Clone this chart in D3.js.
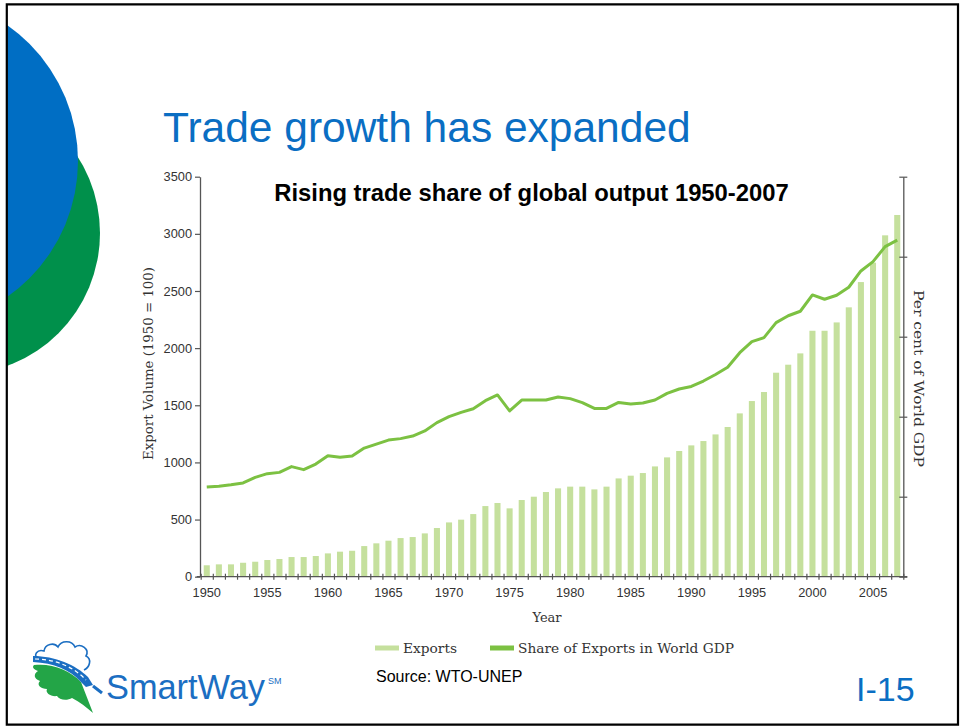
<!DOCTYPE html>
<html>
<head>
<meta charset="utf-8">
<script src="https://cdn.jsdelivr.net/npm/d3@7"></script>
<style>
  body { margin: 0; background: #fff; }
  svg { display: block; }
</style>
</head>
<body>
<svg id="slide" width="960" height="726"></svg>
<script>
// ---- data ----
const years = d3.range(1950, 2008);

// Export volume index (1950 = 100)
const exportVolume = [
  100, 108, 108, 122, 131, 146, 155, 172, 172, 181,
  204, 219, 227, 268, 292, 315, 338, 347, 379, 426,
  475, 499, 548, 618, 645, 598, 671, 700, 741, 773,
  788, 788, 764, 788, 860, 884, 907, 965, 1044, 1100,
  1149, 1187, 1245, 1310, 1429, 1537, 1616, 1785, 1855, 1954,
  2152, 2152, 2225, 2357, 2578, 2748, 2987, 3165
];

// Share of exports in world GDP (per cent)
const gdpShare = [
  5.61, 5.66, 5.75, 5.86, 6.21, 6.44, 6.52, 6.88, 6.69, 7.04,
  7.56, 7.46, 7.54, 8.04, 8.29, 8.54, 8.63, 8.79, 9.11, 9.63,
  10.00, 10.27, 10.50, 11.00, 11.36, 10.36, 11.04, 11.04, 11.04, 11.23,
  11.13, 10.88, 10.52, 10.52, 10.89, 10.79, 10.86, 11.04, 11.46, 11.73,
  11.89, 12.23, 12.64, 13.09, 14.00, 14.69, 14.94, 15.88, 16.31, 16.59,
  17.61, 17.34, 17.59, 18.09, 19.11, 19.69, 20.63, 21.04
];

const leftTicks = [0, 500, 1000, 1500, 2000, 2500, 3000, 3500];
const rightTicks = [0, 5, 10, 15, 20, 25];
const yearLabels = [1950, 1955, 1960, 1965, 1970, 1975, 1980, 1985, 1990, 1995, 2000, 2005];
const legendLabels = ["Exports", "Share of Exports in World GDP"];

// ---- styling ----
const BAR = "#c5e09d";
const LINE = "#7cc142";
const AXIS = "#555";
const SERIF = "'DejaVu Serif', serif";
const SANS = "'Liberation Sans', Arial, sans-serif";

const svg = d3.select("#slide");

// ---- slide decoration ----
const deco = svg.append("g");
deco.append("clipPath").attr("id", "inside")
  .append("rect").attr("x", 7).attr("y", 5).attr("width", 950).attr("height", 719);
const circles = deco.append("g").attr("clip-path", "url(#inside)");
circles.append("circle").attr("cx", -41.6).attr("cy", 233).attr("r", 141.6).attr("fill", "#00904b");
circles.append("circle").attr("cx", -87.8).attr("cy", 161).attr("r", 165.8).attr("fill", "#006ec4");

svg.append("text")
  .attr("x", 163).attr("y", 142)
  .attr("font-family", SANS).attr("font-size", 42.5)
  .attr("fill", "#0a6ec3")
  .text("Trade growth has expanded");

// ---- chart ----
const plot = { left: 200.7, right: 903.3, top: 176.7, bottom: 576.7 };

const x = d3.scaleBand()
  .domain(years)
  .range([plot.left, plot.right])
  .paddingInner(0.5)
  .paddingOuter(0.25);

// continuous year scale for the band-boundary tick marks
const xEdge = d3.scaleLinear()
  .domain([1949.5, 2007.5])
  .range([plot.left, plot.right]);

const y = d3.scaleLinear().domain([0, 3500]).range([plot.bottom, plot.top]);
const yR = d3.scaleLinear().domain([0, 25]).range([plot.bottom, plot.top]);

const chart = svg.append("g");

// bars
chart.append("g").selectAll("rect")
  .data(years)
  .join("rect")
  .attr("x", d => x(d))
  .attr("width", x.bandwidth())
  .attr("y", (d, i) => y(exportVolume[i]))
  .attr("height", (d, i) => y(0) - y(exportVolume[i]))
  .attr("fill", BAR);

// share line
const line = d3.line()
  .x(d => x(d.year) + x.bandwidth() / 2)
  .y(d => yR(d.share));

chart.append("path")
  .datum(years.map((yr, i) => ({ year: yr, share: gdpShare[i] })))
  .attr("d", line)
  .attr("fill", "none")
  .attr("stroke", LINE)
  .attr("stroke-width", 3)
  .attr("stroke-linejoin", "round");

function styleAxis(g) {
  g.selectAll(".domain").attr("stroke", AXIS).attr("stroke-width", 1.3);
  g.selectAll(".tick line").attr("stroke", AXIS).attr("stroke-width", 1.2);
  g.selectAll(".tick text")
    .attr("font-family", SANS).attr("font-size", 12.8).attr("fill", "#333");
}

// left axis
chart.append("g")
  .attr("transform", `translate(${plot.left - 0.7},0)`)
  .call(d3.axisLeft(y).tickValues(leftTicks).tickSize(5).tickPadding(3)
    .tickSizeOuter(0).tickFormat(d3.format("d")))
  .call(styleAxis);

// right axis (unlabelled ticks, crossing the line)
const rAxis = chart.append("g")
  .attr("transform", `translate(${plot.right},0)`)
  .call(d3.axisRight(yR).tickValues(rightTicks).tickSize(4).tickSizeOuter(0).tickFormat(""))
  .call(styleAxis);
rAxis.selectAll(".tick line").attr("x1", -4);

// bottom axis: boundary ticks
const bAxis = chart.append("g")
  .attr("transform", `translate(0,${plot.bottom})`)
  .call(d3.axisBottom(xEdge).tickValues(d3.range(1949.5, 2008, 1)).tickSize(3).tickFormat("").tickSizeOuter(0))
  .call(styleAxis);
bAxis.selectAll(".tick line").attr("y1", -3);
bAxis.select(".domain").attr("d", `M${plot.left - 4},0H${plot.right + 4}`);

// bottom axis: year labels at band centres
chart.append("g")
  .attr("transform", `translate(0,${plot.bottom})`)
  .call(d3.axisBottom(x).tickValues(yearLabels).tickSize(0).tickPadding(11))
  .call(g => g.select(".domain").remove())
  .call(styleAxis);

// axis titles
svg.append("text")
  .attr("transform", "translate(153,363.5) rotate(-90)")
  .attr("text-anchor", "middle")
  .attr("font-family", SERIF).attr("font-size", 13).attr("fill", "#333")
  .attr("textLength", 193).attr("lengthAdjust", "spacingAndGlyphs")
  .text("Export Volume (1950 = 100)");

svg.append("text")
  .attr("transform", "translate(914,378.5) rotate(90)")
  .attr("text-anchor", "middle")
  .attr("font-family", SERIF).attr("font-size", 13.5).attr("fill", "#333")
  .attr("textLength", 177).attr("lengthAdjust", "spacingAndGlyphs")
  .text("Per cent of World GDP");

svg.append("text")
  .attr("x", 547).attr("y", 622)
  .attr("text-anchor", "middle")
  .attr("font-family", SERIF).attr("font-size", 13).attr("fill", "#333")
  .text("Year");

svg.append("text")
  .attr("x", 531.5).attr("y", 201)
  .attr("text-anchor", "middle")
  .attr("font-family", SANS).attr("font-size", 23.8).attr("font-weight", "bold")
  .attr("fill", "#000")
  .text("Rising trade share of global output 1950-2007");

// legend
const legendX = [375, 490];
const legendLen = [54, 216];
const legendColors = [BAR, LINE];
const legend = svg.append("g").selectAll("g")
  .data(legendLabels)
  .join("g")
  .attr("transform", (d, i) => `translate(${legendX[i]},648)`);
legend.append("rect")
  .attr("x", 0).attr("y", -2.5).attr("width", 24).attr("height", 5)
  .attr("fill", (d, i) => legendColors[i]);
legend.append("text")
  .attr("x", 28).attr("y", 4.5)
  .attr("font-family", SERIF).attr("font-size", 13).attr("fill", "#333")
  .attr("textLength", (d, i) => legendLen[i]).attr("lengthAdjust", "spacingAndGlyphs")
  .text(d => d);

// source note
svg.append("text")
  .attr("x", 376).attr("y", 682)
  .attr("font-family", SANS).attr("font-size", 16).attr("fill", "#000")
  .text("Source: WTO-UNEP");

// slide number
svg.append("text")
  .attr("x", 856).attr("y", 701)
  .attr("font-family", "'Liberation Sans Narrow', 'Liberation Sans', sans-serif")
  .attr("font-size", 34).attr("fill", "#0a6ec3")
  .text("I-15");

// ---- SmartWay logo ----
const logo = svg.append("g");
logo.append("path")
  .attr("d", "M34,665 C52,663 70,670 81,682 L93,713 C86,707 80,702 72,698 C67,701 59,700 57,696 C51,697 45,693 47,689 C41,689 36,685 40,681 C34,679 33,674 38,671 C33,669 32,667 34,665 Z")
  .attr("fill", "#23a547");
logo.append("path")
  .attr("d", "M38,659 C33,655 37,649 44,651 C45,644 54,642 58,647 C61,640 72,640 75,647 C81,643 90,649 86,656 C92,659 90,667 84,670")
  .attr("fill", "none").attr("stroke", "#1b6ec2").attr("stroke-width", 1.6);
logo.append("path")
  .attr("d", "M33,656 C55,656 76,665 88,677 L93,685 L86,687 L80,681 C70,670 54,663 33,662 Z")
  .attr("fill", "#1b6ec2");
logo.append("path")
  .attr("d", "M35,659 C55,659 74,667 86,680")
  .attr("fill", "none").attr("stroke", "#fff").attr("stroke-width", 1.2)
  .attr("stroke-dasharray", "4 3");
logo.append("path")
  .attr("d", "M93,686 L102,693")
  .attr("stroke", "#1b6ec2").attr("stroke-width", 3);
logo.append("text")
  .attr("x", 106).attr("y", 699)
  .attr("font-family", SANS).attr("font-size", 35)
  .attr("textLength", 159).attr("lengthAdjust", "spacingAndGlyphs")
  .attr("fill", "#1b6ec2")
  .text("SmartWay");
logo.append("text")
  .attr("x", 268).attr("y", 684)
  .attr("font-family", SANS).attr("font-size", 9).attr("fill", "#1b6ec2")
  .text("SM");

// slide frame
svg.append("path")
  .attr("d", "M6.8,724.7 V4.3 H958 V724.7 Z")
  .attr("fill", "none").attr("stroke", "#000").attr("stroke-width", 2.2);
</script>
</body>
</html>
